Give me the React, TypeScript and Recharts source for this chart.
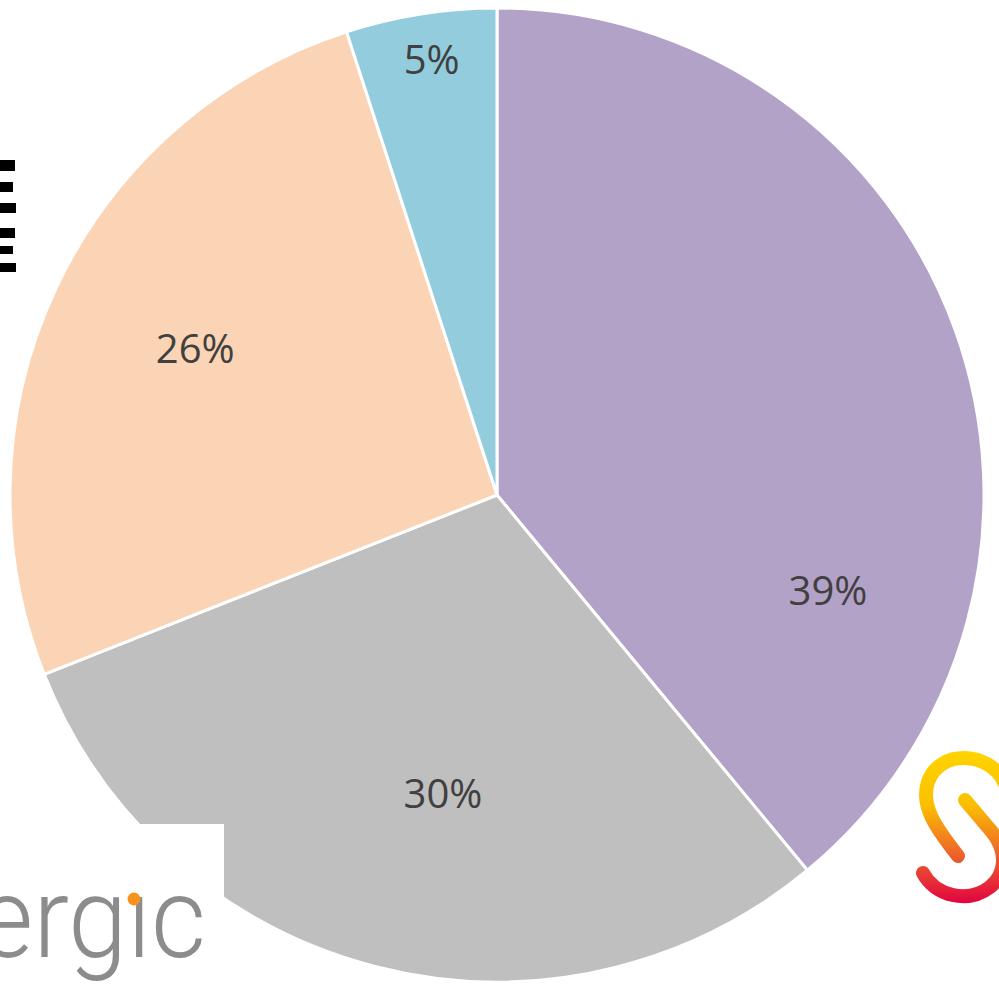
import { PieChart, Pie, Cell } from "recharts";

const CATEGORIES = ["A", "B", "C", "D"];
const SHARES = [39, 30, 26, 5];
const LABELS = ["39%", "30%", "26%", "5%"];

const COLORS = ["#B3A2C7", "#BFBFBF", "#FAD4B5", "#93CDDD"];

// label tweaks (radius ratio, angle shift in degrees), Excel "best fit" style
const LABEL_R = [0.707, 0.62, 0.69, 0.907];
const LABEL_SHIFT = [-35.8, 4.1, -0.9, -0.5];

const RAD = Math.PI / 180;

const data = CATEGORIES.map((name, i) => ({ name, value: SHARES[i], label: LABELS[i] }));

function renderLabel(props: any) {
  const { cx, cy, midAngle, outerRadius, index } = props;
  const a = (midAngle + LABEL_SHIFT[index]) * RAD;
  const r = outerRadius * LABEL_R[index];
  const x = cx + r * Math.cos(-a);
  const y = cy + r * Math.sin(-a);
  return (
    <text
      x={x}
      y={y}
      fill="#404040"
      fontSize={40}
      fontFamily="'Open Sans', sans-serif"
      textAnchor="middle"
      dominantBaseline="central"
    >
      {LABELS[index]}
    </text>
  );
}

function Logos() {
  return (
    <svg
      width={999}
      height={984}
      style={{ position: "absolute", left: 0, top: 0, pointerEvents: "none" }}
    >
      <defs>
        <linearGradient id="sgrad" x1="0" y1="750" x2="0" y2="905" gradientUnits="userSpaceOnUse">
          <stop offset="0" stopColor="#FFD400" />
          <stop offset="0.35" stopColor="#FBC000" />
          <stop offset="0.65" stopColor="#EE6A28" />
          <stop offset="1" stopColor="#E00042" />
        </linearGradient>
      </defs>
      {/* striped logo at left */}
      <rect x={0} y={160} width={15} height={11} fill="#000" />
      <rect x={0} y={182} width={13} height={10} fill="#000" />
      <rect x={0} y={203} width={16} height={10} fill="#000" />
      <rect x={0} y={228} width={15} height={10} fill="#000" />
      <rect x={0} y={246} width={13} height={8} fill="#000" />
      <rect x={0} y={263} width={16} height={9} fill="#000" />
      {/* white patch + "ergic" */}
      <rect x={140} y={824} width={84} height={160} fill="#fff" />
      <text
        x={-22}
        y={957}
        fontFamily="Roboto, sans-serif"
        fontWeight={300}
        fontSize={114}
        fill="#8C8C8C"
        textLength={228}
        lengthAdjust="spacingAndGlyphs"
      >
        {"ergıc"}
      </text>
      <circle cx={134} cy={899} r={6.5} fill="#F7941D" />
      {/* S logo at right */}
      <path
        d="M 1004 782 C 990 752, 940 748, 928 782 C 920 806, 936 828, 958 856"
        fill="none"
        stroke="url(#sgrad)"
        strokeWidth={14}
        strokeLinecap="round"
      />
      <path
        d="M 965 800 L 992 832 C 1008 852, 1006 874, 990 887 C 968 904, 935 896, 923 873"
        fill="none"
        stroke="url(#sgrad)"
        strokeWidth={14}
        strokeLinecap="round"
      />
    </svg>
  );
}

export default function App() {
  return (
    <div style={{ position: "fixed", left: 0, top: 0, width: 999, height: 984, background: "#fff" }}>
      <PieChart width={999} height={984} margin={{ top: 0, right: 0, bottom: 0, left: 0 }}>
        <Pie
          data={data}
          dataKey="value"
          nameKey="name"
          cx={497}
          cy={495}
          outerRadius={487}
          startAngle={90}
          endAngle={-270}
          stroke="#fff"
          strokeWidth={3}
          label={renderLabel}
          labelLine={false}
          isAnimationActive={false}
        >
          {data.map((d, i) => (
            <Cell key={d.name} fill={COLORS[i]} />
          ))}
        </Pie>
      </PieChart>
      <Logos />
    </div>
  );
}
